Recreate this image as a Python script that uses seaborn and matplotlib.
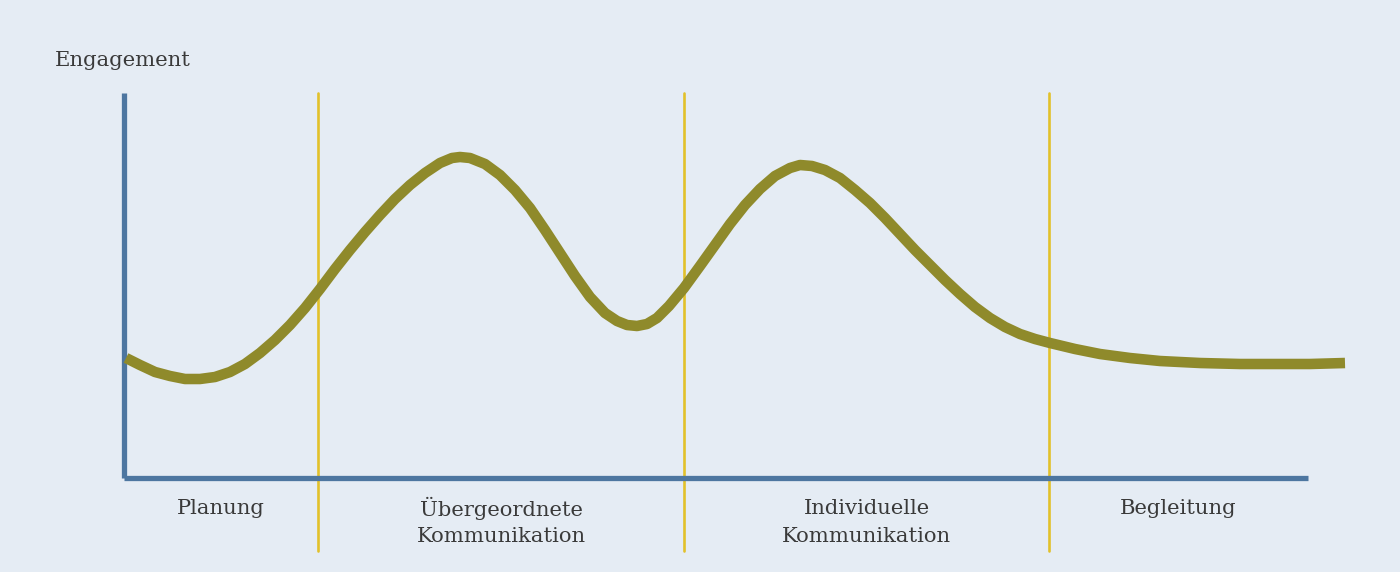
import matplotlib
matplotlib.use("Agg")
import matplotlib.pyplot as plt
import seaborn as sns
import pandas as pd

# ---- data ----
phase_bounds = [1.94, 5.60, 9.25]
axis_x_end = 11.84
axis_y_top = 3.85
phase_labels = [["Planung"], ["Übergeordnete", "Kommunikation"],
                ["Individuelle", "Kommunikation"], ["Begleitung"]]
y_label = "Engagement"

time = [0.02, 0.16, 0.31, 0.46, 0.61, 0.76, 0.91, 1.06, 1.21, 1.36, 1.51, 1.66,
        1.81, 1.96, 2.11, 2.26, 2.41, 2.56, 2.71, 2.86, 3.01, 3.16, 3.28, 3.36,
        3.46, 3.61, 3.76, 3.91, 4.06, 4.21, 4.36, 4.51, 4.66, 4.81, 4.93, 5.03,
        5.13, 5.23, 5.33, 5.45, 5.60, 5.76, 5.91, 6.06, 6.21, 6.36, 6.51, 6.66,
        6.76, 6.88, 7.01, 7.16, 7.31, 7.46, 7.61, 7.76, 7.91, 8.06, 8.21, 8.36,
        8.51, 8.66, 8.81, 8.96, 9.11, 9.26, 9.51, 9.76, 10.06, 10.36, 10.76,
        11.16, 11.56, 11.86, 12.21]
engagement = [1.20, 1.13, 1.06, 1.02, 0.99, 0.99, 1.01, 1.06, 1.14, 1.25, 1.38,
              1.53, 1.70, 1.89, 2.09, 2.28, 2.46, 2.63, 2.79, 2.93, 3.05, 3.15,
              3.20, 3.21, 3.20, 3.14, 3.03, 2.88, 2.70, 2.48, 2.25, 2.02, 1.81,
              1.65, 1.57, 1.53, 1.52, 1.54, 1.60, 1.72, 1.90, 2.12, 2.33, 2.54,
              2.73, 2.89, 3.02, 3.10, 3.13, 3.12, 3.08, 3.00, 2.88, 2.75, 2.60,
              2.44, 2.28, 2.13, 1.98, 1.84, 1.71, 1.60, 1.51, 1.44, 1.39, 1.35,
              1.29, 1.24, 1.20, 1.17, 1.15, 1.14, 1.14, 1.14, 1.15]

BG = "#e5ecf4"
BLUE = "#4d76a0"
YELLOW = "#e2c12a"
OLIVE = "#8f8a2b"
TEXT = "#3a3a3a"

sns.set_theme(style="white")
plt.rcParams["font.family"] = ["DejaVu Serif"]

fig = plt.figure(figsize=(14, 5.72), dpi=100)
fig.patch.set_facecolor(BG)
ax = fig.add_axes([0, 0, 1, 1])
ax.set_facecolor(BG)

# phase separators
for b in phase_bounds:
    ax.plot([b, b], [-0.73, axis_y_top], color=YELLOW, lw=1.9, zorder=1)

# axes lines
ax.plot([0, 0], [0, axis_y_top], color=BLUE, lw=3.8, solid_capstyle="butt", zorder=2)
ax.plot([0, axis_x_end], [0, 0], color=BLUE, lw=3.8, solid_capstyle="butt", zorder=2)

df = pd.DataFrame({"time": time, "engagement": engagement})
sns.lineplot(data=df, x="time", y="engagement", ax=ax, color=OLIVE, lw=7.6,
             sort=False, solid_capstyle="butt", solid_joinstyle="round", zorder=3)
ax.set_xlim(-1.24, 12.76)
ax.set_ylim(-0.94, 4.78)
ax.axis("off")

# labels
edges = [0] + phase_bounds + [axis_x_end]
line_y = [-0.30, -0.59]
for i, lines in enumerate(phase_labels):
    xm = (edges[i] + edges[i + 1]) / 2
    for j, lab in enumerate(lines):
        ax.text(xm, line_y[j], lab, ha="center", va="center", fontsize=15.2,
                color=TEXT)

ax.text(-0.69, 4.17, y_label, ha="left", va="center", fontsize=15.2, color=TEXT)

fig.savefig("out.png", dpi=100, facecolor=BG)
